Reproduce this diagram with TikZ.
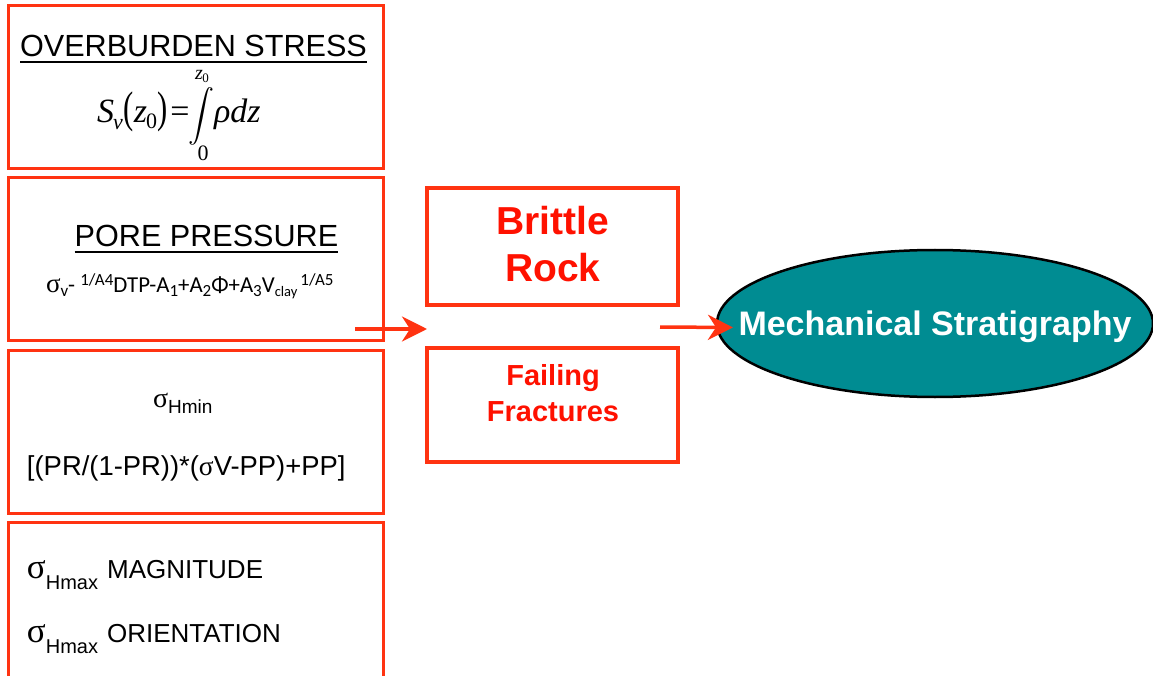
\documentclass[tikz,border=0pt]{standalone}
\usepackage{graphicx}
\usepackage{fontspec}
\setmainfont{Liberation Sans}
\newfontfamily\tms{Liberation Serif}
\newfontfamily\calib{Carlito}
\usetikzlibrary{shapes.geometric,arrows.meta,calc}
\definecolor{boxred}{HTML}{FF3311}
\definecolor{txtred}{HTML}{FF1100}
\definecolor{tealfill}{HTML}{008C92}
\newcommand\fsz[1]{\fontsize{#1}{#1}\selectfont}
\newcommand\supr[1]{\raisebox{7pt}{\fsz{17}#1}}
\newcommand\subr[1]{\raisebox{-4pt}{\fsz{17}#1}}
\begin{document}
\begin{tikzpicture}[x=1pt,y=-1pt,
  bigbox/.style={draw=boxred,line width=3pt,rectangle,inner sep=0pt,outer sep=0pt,anchor=north west,minimum width=375pt},
  redbox/.style={draw=boxred,line width=4.5pt,rectangle,inner sep=0pt,outer sep=0pt,minimum width=251pt},
  txt/.style={inner sep=0pt,outer sep=0pt,anchor=base west},
  ctxt/.style={inner sep=0pt,outer sep=0pt,anchor=base},
  flow/.style={draw=boxred,line width=3.5pt,-{Stealth[length=25pt,width=25pt,inset=8pt]}},
  uline/.style={line width=1.8pt}]
\useasboundingbox (0,0) rectangle (1153,676);
\clip (0,0) rectangle (1153,676);
\fill[white] (0,0) rectangle (1153,676);

% left column boxes
\node[bigbox,minimum height=163pt] (b1) at (8,6) {};
\node[bigbox,minimum height=162pt] (b2) at (8,178) {};
\node[bigbox,minimum height=163pt] (b3) at (8,350) {};
\node[bigbox,minimum height=170pt] (b4) at (8,522) {};

% box 1
\node[ctxt,font=\fsz{30.6}] (t1) at (193.5,57) {OVERBURDEN STRESS};
\draw[uline] ([yshift=-5pt]t1.base west) -- ([yshift=-5pt]t1.base east);
\node[txt] (eq) at (97,123) {\tms\fsz{34}\itshape S\kern-1pt\raisebox{-7pt}{\fsz{22}v}\upshape\kern1pt\scalebox{0.9}[1.3]{(}\itshape z\kern-1pt\raisebox{-6pt}{\fsz{22}\upshape 0}\upshape\scalebox{0.9}[1.3]{)}\kern3pt=};
\node[txt] (int) at (188,123) {\raisebox{0pt}[30pt][24pt]{\scalebox{2.6}{$\displaystyle\int$}}};
\node[txt] (rho) at (214,123) {\tms\fsz{34}\itshape ρdz};
\node[ctxt] (up) at (202,80) {\raisebox{0pt}[12pt][4pt]{\tms\fsz{20}\itshape z\kern-0.5pt\raisebox{-3pt}{\fsz{13}\upshape 0}}};
\node[ctxt] (lo) at (203,161) {\tms\fsz{22}0};

% box 2
\node[ctxt,font=\fsz{30.6}] (t2) at (206.5,247) {PORE PRESSURE};
\draw[uline] ([yshift=-5pt]t2.base west) -- ([yshift=-5pt]t2.base east);
\node[txt] (pp) at (46,292) {\calib\fsz{22.8}{\tms\fsz{27}σ}\subr{v}- \supr{1/A4}DTP-A\subr{1}+A\subr{2}Φ+A\subr{3}V\raisebox{-4pt}{\fsz{14.5}clay}\hspace{3pt}\supr{1/A5}};

% box 3
\node[txt] (hmin) at (153,407) {{\tms\fsz{28}σ}\raisebox{-6pt}{\fsz{19}Hmin}};
\node[txt] (shf) at (27,475) {\fsz{27.4}[(PR/(1-PR))*({\tms σ}V-PP)+PP]};

% box 4
\node[txt] (mag) at (27,578) {{\tms\fsz{35}σ}\raisebox{-11pt}{\fsz{20}Hmax}\hspace{9pt}\fsz{26}MAGNITUDE};
\node[txt] (ori) at (27,642) {{\tms\fsz{35}σ}\raisebox{-11pt}{\fsz{20}Hmax}\hspace{9pt}\fsz{26}ORIENTATION};

% middle boxes
\node[redbox,minimum height=117pt] (br) at (552.5,246.5) {};
\node[font=\bfseries\fontsize{39}{47}\selectfont,text=txtred,align=center,inner sep=0pt] (brT) at (553,244) {Brittle\\Rock};
\node[redbox,minimum height=114pt] (ff) at (552.5,405) {};
\node[font=\bfseries\fontsize{29}{36}\selectfont,text=txtred,align=center,inner sep=0pt] (ffT) at (553,393) {Failing\\Fractures};

% ellipse
\node[ellipse,draw=black,line width=2.5pt,fill=tealfill,minimum width=436pt,minimum height=147pt,inner sep=0pt,outer sep=0pt] (ms) at (935,323.5) {};
\node[ctxt,font=\bfseries\fsz{34},text=white] (msT) at (935,335) {Mechanical Stratigraphy};

% connectors
\coordinate (a1s) at (355,329);
\coordinate (a1e) at (br.west |- a1s);
\draw[flow] (a1s) -- (a1e);
\coordinate (a2s) at (660,327);
\draw[flow] (a2s) -- ($(ms.west)+(16,4)$);
\end{tikzpicture}
\end{document}
